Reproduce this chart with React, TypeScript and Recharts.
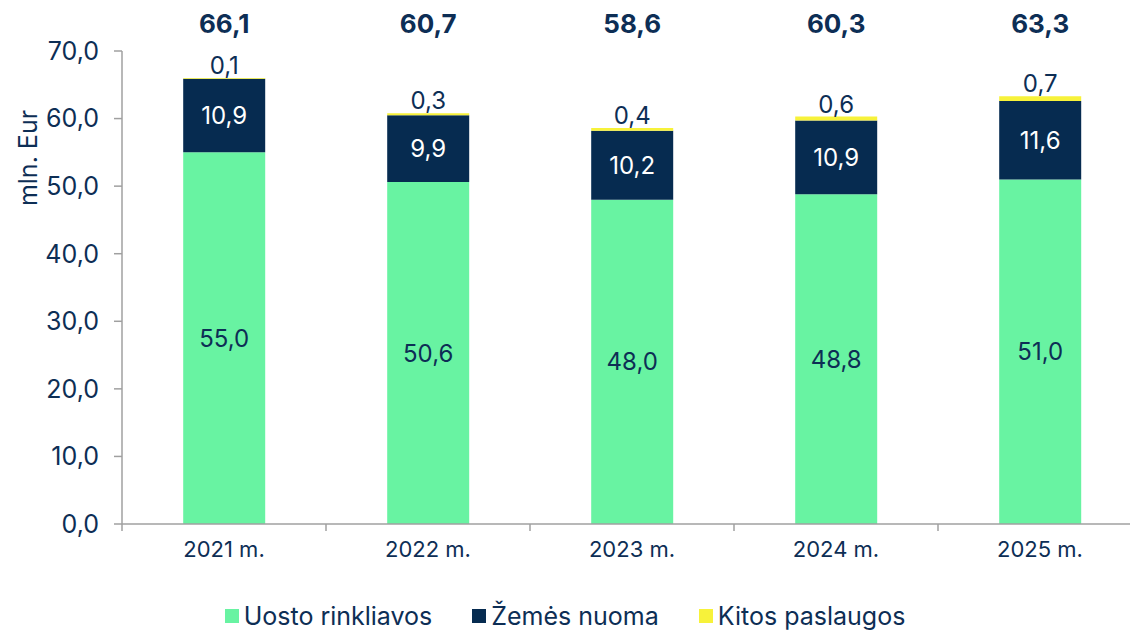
import React from 'react';
import { BarChart, Bar, XAxis, YAxis, LabelList, Legend } from 'recharts';

const categories = ['2021 m.', '2022 m.', '2023 m.', '2024 m.', '2025 m.'];
const uostoRinkliavos = [55.0, 50.6, 48.0, 48.8, 51.0];
const zemesNuoma = [10.9, 9.9, 10.2, 10.9, 11.6];
const kitosPaslaugos = [0.1, 0.3, 0.4, 0.6, 0.7];
const totals = [66.1, 60.7, 58.6, 60.3, 63.3];
const yTicks = [0, 10, 20, 30, 40, 50, 60, 70];

const seriesNames = ['Uosto rinkliavos', 'Žemės nuoma', 'Kitos paslaugos'];

const GREEN = '#68F3A2';
const NAVY = '#062B50';
const YELLOW = '#F7F23A';
const TEXT = '#0D2E55';
const AXIS = '#A0A0A0';
const FONT = 'Inter, "Open Sans", sans-serif';

const data = categories.map((c, i) => ({
  name: c,
  uosto: uostoRinkliavos[i],
  zemes: zemesNuoma[i],
  kitos: kitosPaslaugos[i],
  total: totals[i],
}));

const fmt = (v: number) => Number(v).toFixed(1).replace('.', ',');

const XTick = (props: any) => {
  const { x, y, payload } = props;
  const off = payload && typeof payload.offset === 'number' ? payload.offset : 0;
  return (
    <g>
      <line x1={x - off} x2={x - off} y1={y} y2={y + 7} stroke={AXIS} strokeWidth={1.5} />
      <text x={x} y={y + 27} textAnchor="middle" dominantBaseline="middle" fill={TEXT} fontSize={22} fontFamily={FONT}>
        {payload.value}
      </text>
    </g>
  );
};

const TotalLabel = (props: any) => {
  const { x, width, value } = props;
  return (
    <text x={x + width / 2} y={26} textAnchor="middle" dominantBaseline="middle" fill={TEXT} fontSize={26} fontWeight={700} fontFamily={FONT}>
      {fmt(value)}
    </text>
  );
};

const YLabel = (props: any) => {
  const { viewBox } = props;
  const cx = 30;
  const cy = viewBox.y + 107;
  return (
    <text x={cx} y={cy} transform={`rotate(-90 ${cx} ${cy})`} textAnchor="middle" dominantBaseline="middle" fill={TEXT} fontSize={25} fontFamily={FONT}>
      mln. Eur
    </text>
  );
};

const colors = [GREEN, NAVY, YELLOW];

const LegendContent = () => (
  <div style={{ height: 60, paddingTop: 28, boxSizing: 'border-box', display: 'flex', justifyContent: 'center', alignItems: 'center', fontFamily: FONT }}>
    {seriesNames.map((n, i) => (
      <div key={n} style={{ display: 'flex', alignItems: 'center', marginRight: i < 2 ? 40 : 0 }}>
        <span style={{ display: 'inline-block', width: 14, height: 14, background: colors[i], marginRight: 5 }} />
        <span style={{ color: TEXT, fontSize: 25 }}>{n}</span>
      </div>
    ))}
  </div>
);

export default function App() {
  return (
    <div style={{ position: 'absolute', left: 0, top: 0, width: 1130, height: 632, overflow: 'hidden', background: '#fff' }}>
      <BarChart width={1150} height={632} data={data} margin={{ top: 51, right: 8, bottom: 0, left: 0 }} barCategoryGap="30%">
        <XAxis
          dataKey="name"
          axisLine={{ stroke: AXIS, strokeWidth: 1.5 }}
          tickLine={false}
          tickSize={0}
          tickMargin={0}
          height={48}
          tick={<XTick />}
          interval={0}
        />
        <YAxis
          domain={[0, 70]}
          ticks={yTicks}
          width={122}
          axisLine={{ stroke: AXIS, strokeWidth: 1.5 }}
          tickLine={{ stroke: AXIS, strokeWidth: 1.5 }}
          tickSize={8}
          tickMargin={15}
          tickFormatter={fmt}
          tick={{ fill: TEXT, fontSize: 25, fontFamily: FONT }}
          label={<YLabel />}
          allowDataOverflow
        />
        <Legend verticalAlign="bottom" content={<LegendContent />} wrapperStyle={{ left: 0, width: 1130, bottom: 0 }} />
        <Bar dataKey="uosto" stackId="a" fill={GREEN} isAnimationActive={false}>
          <LabelList dataKey="uosto" position="center" fill={TEXT} fontSize={24} fontFamily={FONT} formatter={fmt} />
        </Bar>
        <Bar dataKey="zemes" stackId="a" fill={NAVY} isAnimationActive={false}>
          <LabelList dataKey="zemes" position="center" fill="#FFFFFF" fontSize={24} fontFamily={FONT} formatter={fmt} />
        </Bar>
        <Bar dataKey="kitos" stackId="a" fill={YELLOW} isAnimationActive={false}>
          <LabelList dataKey="kitos" position="top" offset={4} fill={TEXT} fontSize={24} fontFamily={FONT} formatter={fmt} />
          <LabelList dataKey="total" content={<TotalLabel />} />
        </Bar>
      </BarChart>
    </div>
  );
}
